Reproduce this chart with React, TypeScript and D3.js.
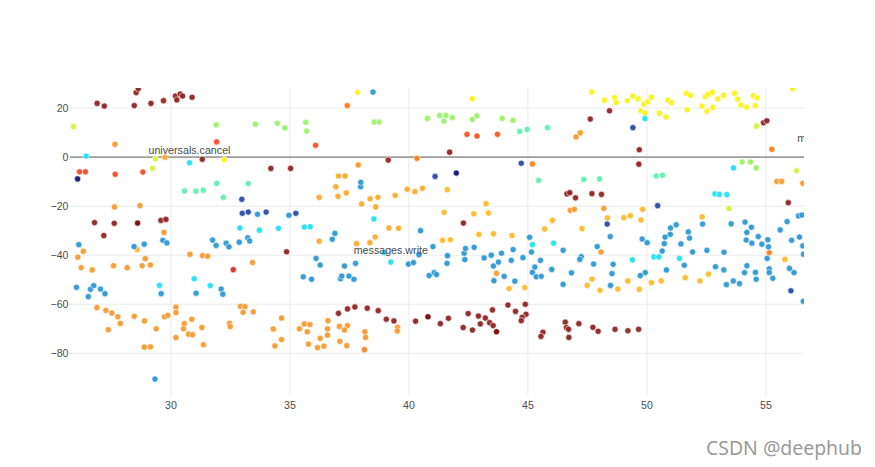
import React from 'react';
import * as d3 from 'd3';

type P = [number, number];

const W = 875;
const H = 467;
const plot = { left: 70, right: 804, top: 88, bottom: 396 };

const xDomain: P = [25.76, 56.6];
const yDomain: P = [-97.4, 28.17];
const xTicks = [30, 35, 40, 45, 50, 55];
const yTicks = [20, 0, -20, -40, -60, -80];

const darkRed: P[] = [
  [26.9, 21.9], [27.2, 20.8], [28.46, 21.0], [28.54, 26.3], [28.63, 27.9], [29.16, 21.9], [29.69, 23.0],
  [30.19, 24.9], [30.25, 23.3], [30.39, 25.7], [30.49, 24.9], [30.89, 24.4],
  [31.32, -0.9], [26.79, -26.7], [27.62, -27.0], [27.18, -32.0], [29.58, -25.8], [29.79, -25.4],
  [39.13, -1.2], [34.2, -4.6], [35.03, -4.6], [34.86, -38.6], [41.71, 2.0], [47.62, 15.5], [48.43, 18.9],
  [46.64, -15.0], [46.76, -14.5], [47.0, -16.6], [47.69, -14.9], [48.09, -15.2], [42.29, -26.9],
  [54.9, 14.0], [55.04, 14.8], [49.68, 3.0], [49.66, -2.9], [55.94, -18.6],
  [37.04, -63.7], [37.42, -61.9], [37.73, -61.1], [38.25, -61.6], [38.71, -62.6], [39.05, -66.1], [39.37, -66.8],
  [40.28, -66.9], [41.32, -67.9], [41.66, -65.7], [42.28, -69.5], [42.49, -63.8], [42.67, -70.5], [42.92, -64.8],
  [43.0, -68.0], [43.21, -65.6], [43.39, -67.5], [43.51, -62.3], [43.54, -68.7], [44.16, -60.3], [44.48, -62.9],
  [44.89, -60.0], [44.92, -64.1], [44.76, -65.3], [44.72, -66.7], [45.63, -71.4], [45.55, -73.1], [46.57, -67.3],
  [46.62, -69.5], [46.71, -70.2], [47.14, -67.9], [46.72, -73.5], [47.73, -69.4], [47.95, -71.0], [48.66, -70.2],
  [49.2, -70.8], [49.65, -70.2],
];
const maroon: P[] = [[28.6, -26.9], [40.8, -65.1], [43.68, -71.2]];
const red: P[] = [[26.16, -6.0], [26.41, -6.0], [27.66, -7.0], [28.82, -6.1], [31.92, 6.2]];
const crimson: P[] = [[32.62, -45.9]];
const redOrange: P[] = [[36.08, 4.8], [42.44, 9.3], [42.86, 8.6], [43.72, 9.3]];
const darkOrange: P[] = [[38.13, -78.5], [55.25, 3.2], [45.19, -2.8], [55.14, -39.0], [37.41, 21.0], [40.34, -0.5]];
const orange: P[] = [
  [27.65, 5.2], [27.63, -20.3], [28.7, -19.8], [29.71, -30.7], [37.87, -3.2], [47.02, 8.2], [47.2, 9.9],
  [55.46, -9.9], [55.66, -9.9], [56.55, -10.7],
  [26.32, -38.4], [26.09, -40.8], [28.92, -41.4], [30.8, -39.6], [31.33, -40.2], [31.54, -40.4], [26.23, -45.1],
  [26.69, -46.0], [27.59, -44.3], [28.16, -45.1], [28.79, -44.3], [29.14, -44.0], [33.43, -43.0],
  [26.89, -61.4], [27.27, -62.5], [27.52, -63.6], [27.77, -65.1], [27.87, -67.8], [27.37, -70.4], [28.46, -64.9],
  [28.89, -66.8], [29.38, -70.0], [28.88, -77.5], [29.14, -77.4], [29.73, -65.1], [29.87, -64.5], [30.21, -61.2],
  [30.21, -63.4], [30.56, -67.9], [30.53, -70.0], [30.88, -66.1], [30.74, -72.2], [30.91, -72.4], [30.21, -73.6],
  [31.3, -69.5], [31.37, -76.5], [32.46, -67.8], [32.49, -69.1], [32.92, -60.8], [33.11, -61.0], [33.03, -63.3],
  [33.46, -63.1], [34.65, -65.6], [34.3, -70.1], [34.65, -74.4], [34.37, -77.0], [35.6, -68.0], [35.84, -68.3],
  [35.4, -70.0], [35.73, -71.2], [36.6, -66.7], [36.58, -70.0], [36.58, -72.6], [36.27, -73.9], [35.78, -76.2],
  [36.16, -77.7], [36.43, -77.1], [37.08, -69.0], [37.42, -68.7], [37.29, -70.5], [37.1, -75.1], [37.39, -76.9],
  [38.15, -71.2], [38.18, -73.5], [39.52, -69.4], [39.51, -70.9],
  [46.78, -21.7], [46.95, -21.3], [48.19, -20.9], [48.07, -38.7], [43.68, -47.4],
];
const amber: P[] = [
  [37.04, -7.7], [37.32, -7.7], [36.93, -12.1], [37.37, -14.6], [37.02, -16.0], [36.23, -16.4], [38.01, -19.1],
  [38.37, -17.0], [38.7, -16.4], [38.61, -20.3], [39.42, -15.6], [39.93, -13.1], [40.25, -14.1], [40.57, -12.7],
  [39.16, -28.9], [39.56, -29.0], [36.23, -34.3], [37.8, -35.3], [38.36, -34.9], [38.58, -32.6], [29.75, -0.1],
];
const gold: P[] = [
  [41.61, -13.3], [43.24, -19.0], [41.48, -22.5], [42.73, -23.1], [43.34, -22.8], [48.34, -24.8], [49.03, -24.7],
  [49.3, -23.9], [49.82, -21.3], [49.75, -25.6], [52.32, -24.4], [46.03, -25.8], [45.7, -29.3], [47.27, -29.2],
  [42.94, -31.5], [43.55, -31.3], [44.33, -32.0], [41.41, -33.9], [41.74, -33.7], [44.21, -53.6], [44.87, -53.2],
  [47.69, -49.7], [47.49, -52.3], [48.03, -54.3], [48.78, -53.8], [49.2, -50.5], [49.68, -53.9], [50.19, -51.2],
  [50.6, -50.5], [51.61, -49.2], [52.23, -50.5], [52.59, -47.7], [55.8, -41.7], [28.58, -37.7],
];
const yellow: P[] = [
  [37.84, 26.4], [42.67, 23.8], [47.69, 26.5], [48.22, 23.2], [48.64, 24.2], [48.71, 22.3], [49.18, 23.0],
  [49.41, 24.9], [49.63, 23.7], [49.87, 21.6], [50.03, 22.5], [50.19, 24.4], [49.75, 18.9], [49.92, 17.9],
  [50.52, 17.9], [50.8, 16.3], [50.89, 23.2], [51.03, 22.2], [51.66, 26.0], [51.83, 25.2], [51.69, 19.3],
  [52.31, 20.8], [52.52, 18.7], [52.46, 24.6], [52.59, 25.6], [52.76, 26.4], [52.77, 20.3], [52.98, 23.7],
  [53.22, 25.2], [53.68, 26.0], [53.82, 23.6], [53.95, 21.2], [54.2, 20.3], [54.48, 25.0], [54.63, 24.1],
  [54.56, 21.0], [56.12, 27.9], [32.24, -1.1],
];
const yellowGreen: P[] = [[25.91, 12.4], [29.35, -0.7], [29.23, -4.6], [54.61, 12.6], [53.45, -21.0], [56.29, -5.5]];
const lightGreen: P[] = [
  [31.9, 13.1], [33.55, 13.4], [34.47, 13.8], [34.79, 11.9], [35.67, 14.2], [35.7, 10.6], [38.54, 14.3],
  [38.75, 14.3], [40.78, 15.8], [41.29, 17.0], [41.55, 17.0], [41.47, 14.7], [41.82, 16.1], [42.67, 15.4],
  [42.86, 16.8], [43.92, 15.8], [44.37, 15.0], [54.0, -2.0], [54.35, -2.0], [54.59, -4.4],
];
const aquamarine: P[] = [
  [30.57, -13.8], [31.05, -13.9], [31.36, -13.5], [31.92, -10.7], [32.2, -16.4], [33.25, -10.8], [44.66, 10.5],
  [44.97, 11.3], [45.82, 12.0], [45.45, -9.5], [47.35, -9.1], [48.01, -8.9], [50.39, -7.7], [50.66, -7.4],
];
const cyan: P[] = [
  [26.44, 0.4], [30.78, -2.3], [32.9, -28.9], [30.98, -49.6], [29.52, -52.3], [31.65, -52.4], [33.72, -29.8],
  [34.52, -29.0], [35.61, -28.5], [35.85, -28.4], [38.53, -25.2], [38.96, -39.0], [39.24, -42.8], [45.19, -35.7],
  [46.08, -35.1], [49.92, 15.7], [53.64, -4.4], [52.86, -15.0], [53.04, -15.2], [53.36, -15.3], [49.39, -41.9],
  [50.29, -40.7], [50.5, -40.7], [51.37, -41.3],
];
const blue: P[] = [
  [26.13, -35.7], [28.88, -35.5], [28.45, -36.5], [29.66, -33.9], [29.83, -35.0], [31.75, -33.8], [31.9, -36.0],
  [32.32, -35.1], [32.44, -36.6], [32.87, -34.7], [33.23, -32.9], [33.31, -34.2], [26.03, -53.1], [26.53, -56.9],
  [26.62, -53.9], [26.76, -52.4], [27.04, -53.8], [27.23, -55.7], [29.59, -55.7], [31.06, -55.5], [32.11, -53.8],
  [32.18, -55.9], [29.33, -90.5], [33.64, -23.3], [34.96, -23.7], [37.97, -12.1], [37.98, -10.3], [36.89, -31.1],
  [36.78, -33.5], [40.49, -30.0], [38.49, 26.5], [36.1, -41.3], [36.27, -44.0], [37.76, -43.3], [37.29, -44.4],
  [39.98, -43.6], [40.19, -43.0], [41.01, -36.5], [41.06, -47.1], [40.85, -48.3], [40.42, -39.8], [35.56, -48.8],
  [35.91, -49.8], [37.13, -49.6], [37.69, -49.8], [37.48, -48.5], [37.18, -48.5], [41.62, -40.2], [41.6, -43.3],
  [42.32, -39.2], [42.38, -37.3], [42.35, -41.8], [42.74, -36.8], [43.16, -41.1], [43.46, -40.0], [43.89, -39.2],
  [44.38, -37.7], [44.3, -42.1], [44.79, -41.0], [45.07, -32.7], [45.15, -38.7], [45.53, -42.1], [46.48, -38.0],
  [47.24, -40.6], [47.18, -41.7], [47.91, -36.5], [48.46, -32.4], [47.76, -43.6], [48.58, -43.7], [43.55, -44.4],
  [43.76, -42.8], [45.29, -44.8], [46.0, -45.8], [46.83, -47.2], [48.53, -47.5], [44.0, -48.6], [45.19, -47.0],
  [45.35, -48.8], [45.56, -48.6], [46.48, -51.9], [43.57, -50.4], [44.45, -50.6], [48.47, -52.3], [41.16, -47.9],
  [52.34, -27.3], [50.99, -28.9], [51.23, -27.6], [50.98, -31.5], [50.76, -32.6], [50.73, -35.3], [49.8, -33.4],
  [50.01, -34.9], [50.64, -38.3], [51.43, -35.4], [51.74, -30.5], [51.79, -33.0], [51.92, -38.7], [52.52, -38.0],
  [53.24, -38.8], [53.54, -27.2], [54.12, -26.5], [54.39, -28.6], [54.2, -30.7], [54.17, -33.8], [54.41, -35.1],
  [54.68, -32.4], [54.83, -35.5], [55.08, -33.7], [55.11, -36.6], [55.05, -41.3], [55.14, -45.6], [55.14, -47.1],
  [55.29, -49.4], [55.6, -29.7], [55.89, -26.3], [56.37, -24.0], [56.51, -23.6], [56.41, -32.6], [56.08, -33.9],
  [56.55, -36.2], [56.58, -39.6], [51.57, -44.1], [50.82, -46.0], [49.93, -47.1], [49.72, -48.3], [52.88, -44.7],
  [53.23, -46.0], [54.2, -44.3], [54.1, -47.1], [54.56, -47.0], [54.59, -49.8], [55.99, -45.4], [56.18, -47.1],
  [53.34, -52.0], [53.63, -50.5], [53.89, -51.6], [56.57, -58.8],
];
const darkBlue: P[] = [
  [32.98, -17.2], [33.0, -22.9], [33.25, -22.4], [34.0, -22.4], [35.25, -22.9], [41.1, -7.9], [44.72, -2.5],
  [48.33, -27.3], [49.41, 12.0], [50.45, -19.8], [56.05, -54.5],
];
const navy: P[] = [[26.08, -8.9], [41.99, -6.5]];

const labelTexts = ['universals.cancel', 'messages.write', 'messages.read'];
const labelX = [30.78, 39.24, 57.85];
const labelY = [-2.3, -42.8, 2.6];

const groups: { name: string; pts: P[] }[] = [
  { name: 'darkRed', pts: darkRed },
  { name: 'maroon', pts: maroon },
  { name: 'red', pts: red },
  { name: 'crimson', pts: crimson },
  { name: 'redOrange', pts: redOrange },
  { name: 'darkOrange', pts: darkOrange },
  { name: 'orange', pts: orange },
  { name: 'amber', pts: amber },
  { name: 'gold', pts: gold },
  { name: 'yellow', pts: yellow },
  { name: 'yellowGreen', pts: yellowGreen },
  { name: 'lightGreen', pts: lightGreen },
  { name: 'aquamarine', pts: aquamarine },
  { name: 'cyan', pts: cyan },
  { name: 'blue', pts: blue },
  { name: 'darkBlue', pts: darkBlue },
  { name: 'navy', pts: navy },
];

const palette: Record<string, string> = {
  darkRed: '#902323',
  maroon: '#7a0404',
  red: '#fc4a2c',
  crimson: '#d9302c',
  redOrange: '#fa5420',
  darkOrange: '#fb801f',
  orange: '#f99a2e',
  amber: '#fcaa2b',
  gold: '#fdbb2b',
  yellow: '#f8f41c',
  yellowGreen: '#d4f43e',
  lightGreen: '#9ef26b',
  aquamarine: '#62efb1',
  cyan: '#20e2f1',
  blue: '#2c98d4',
  darkBlue: '#2c4aa8',
  navy: '#12127a',
};

const FONT = '"Liberation Sans", Arial, sans-serif';

export default function App() {
  const x = d3.scaleLinear().domain(xDomain).range([plot.left, plot.right]);
  const y = d3.scaleLinear().domain(yDomain).range([plot.bottom, plot.top]);

  return (
    <svg
      width={W}
      height={H}
      style={{ position: 'absolute', left: 0, top: 0, background: '#fff' }}
    >
      <defs>
        <clipPath id="plotClip">
          <rect x={plot.left} y={plot.top} width={plot.right - plot.left} height={plot.bottom - plot.top} />
        </clipPath>
      </defs>
      <rect x={0} y={0} width={W} height={H} fill="#fff" />
      <g>
        {xTicks.map((t) => (
          <line key={'gx' + t} x1={x(t)} x2={x(t)} y1={plot.top} y2={plot.bottom} stroke="#ebebeb" strokeWidth={1} />
        ))}
        {yTicks.filter((t) => t !== 0).map((t) => (
          <line key={'gy' + t} x1={plot.left} x2={plot.right} y1={y(t)} y2={y(t)} stroke="#ebebeb" strokeWidth={1} />
        ))}
        <line x1={plot.left} x2={plot.right} y1={y(0)} y2={y(0)} stroke="#9c9c9c" strokeWidth={1.8} />
      </g>
      <g clipPath="url(#plotClip)">
        {groups.map((g) =>
          g.pts.map((p, i) => (
            <circle
              key={g.name + i}
              cx={x(p[0])}
              cy={y(p[1])}
              r={3.1}
              fill={palette[g.name]}
              stroke="#fff"
              strokeWidth={0.6}
              opacity={0.95}
            />
          ))
        )}
        {labelTexts.map((t, i) => (
          <text
            key={t}
            x={x(labelX[i])}
            y={y(labelY[i]) - 8.5}
            textAnchor="middle"
            fontFamily={FONT}
            fontSize={10.7}
            fill="#4a4a4a"
          >
            {t}
          </text>
        ))}
      </g>
      <g fontFamily={FONT} fontSize={10.6} fill="#4d4d4d">
        {xTicks.map((t) => (
          <text key={'tx' + t} x={x(t)} y={plot.bottom + 12.5} textAnchor="middle">
            {t}
          </text>
        ))}
        {yTicks.map((t) => (
          <text key={'ty' + t} x={plot.left - 1.5} y={y(t)} dy="0.35em" textAnchor="end">
            {t < 0 ? '\u2212' + Math.abs(t) : String(t)}
          </text>
        ))}
      </g>
      <text
        x={862}
        y={455}
        textAnchor="end"
        fontFamily='"Noto Sans", "Open Sans", sans-serif'
        fontSize={20}
        fill="#9a9a9a"
        textLength={156}
        lengthAdjust="spacingAndGlyphs"
      >
        CSDN @deephub
      </text>
    </svg>
  );
}
